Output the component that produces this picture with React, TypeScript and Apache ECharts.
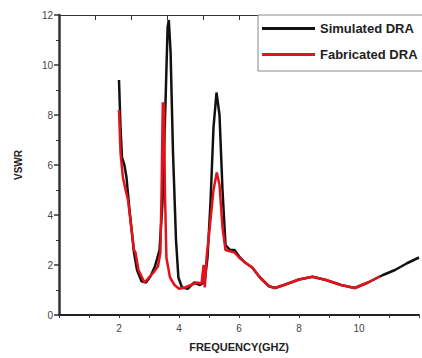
import React, { useEffect, useRef } from "react";
import * as echarts from "echarts";

const simFreq = [2.0, 2.05, 2.1, 2.18, 2.25, 2.35, 2.5, 2.6, 2.75, 2.9, 3.05, 3.2, 3.35, 3.45, 3.55, 3.62, 3.66, 3.72, 3.8, 3.9, 3.98, 4.1, 4.3, 4.5, 4.7, 4.85, 4.95, 5.05, 5.15, 5.25, 5.35, 5.45, 5.55, 5.7, 5.85, 6.0, 6.2, 6.44, 6.7, 7.0, 7.2, 7.5, 8.0, 8.45, 8.9, 9.4, 9.86, 10.3, 10.8, 11.2, 11.6, 12.0];
const simVswr = [9.4, 7.5, 6.3, 6.0, 5.5, 4.2, 2.5, 1.8, 1.35, 1.3, 1.55, 1.95, 2.6, 4.5, 8.5, 11.5, 11.8, 10.5, 6.5, 3.0, 1.5, 1.1, 1.05, 1.3, 1.2, 1.3, 2.3, 4.5, 7.5, 8.9, 8.0, 5.0, 2.8, 2.6, 2.6, 2.35, 2.1, 1.9, 1.5, 1.15, 1.08, 1.2, 1.42, 1.53, 1.4, 1.2, 1.08, 1.3, 1.6, 1.8, 2.07, 2.3];

const fabFreq = [2.0, 2.05, 2.13, 2.22, 2.3, 2.4, 2.5, 2.55, 2.65, 2.85, 3.0, 3.15, 3.3, 3.38, 3.42, 3.46, 3.5, 3.53, 3.58, 3.7, 3.85, 4.0, 4.2, 4.4, 4.6, 4.75, 4.82, 4.86, 4.92, 5.05, 5.15, 5.26, 5.35, 5.45, 5.55, 5.7, 5.85, 6.0, 6.2, 6.44, 6.7, 7.0, 7.2, 7.5, 8.0, 8.45, 8.9, 9.4, 9.86, 10.3, 10.7];
const fabVswr = [8.2, 6.5, 5.5, 5.0, 4.6, 3.6, 2.6, 2.5, 1.8, 1.3, 1.5, 1.7, 1.95, 2.5, 5.0, 8.5, 8.4, 5.0, 2.3, 1.5, 1.2, 1.05, 1.1, 1.2, 1.3, 1.25, 2.0, 1.1, 2.3, 3.8, 5.0, 5.7, 5.2, 3.5, 2.6, 2.55, 2.5, 2.3, 2.1, 1.9, 1.5, 1.15, 1.08, 1.2, 1.42, 1.53, 1.4, 1.2, 1.08, 1.3, 1.55];

const seriesNames = ["Simulated DRA", "Fabricated DRA"];
const xTickLabels = [2, 4, 6, 8, 10];
const yTickLabels = [0, 2, 4, 6, 8, 10, 12];

export default function App() {
  const ref = useRef<HTMLDivElement>(null);
  useEffect(() => {
    if (!ref.current) return;
    const chart = echarts.init(ref.current, null, { renderer: "svg" });
    const font = "'Liberation Sans', Arial, sans-serif";
    chart.setOption({
      animation: false,
      backgroundColor: "#fff",
      textStyle: { fontFamily: font },
      grid: { left: 59, top: 15, right: -12, bottom: 43 },
      legend: {
        orient: "vertical",
        left: 258,
        top: 15,
        data: seriesNames,
        icon: "rect",
        itemWidth: 53,
        itemHeight: 3,
        itemGap: 13,
        padding: [7, 60, 10, 4],
        borderColor: "#888",
        borderWidth: 1,
        backgroundColor: "#fff",
        textStyle: { fontSize: 13, fontWeight: "bold", color: "#222", fontFamily: font },
      },
      xAxis: [
        {
          type: "value",
          min: 0,
          max: 12,
          interval: 2,
          position: "bottom",
          name: "FREQUENCY(GHZ)",
          nameLocation: "middle",
          nameGap: 26,
          nameTextStyle: { fontSize: 11, fontWeight: "bold", color: "#222", fontFamily: font },
          axisLine: { onZero: false, lineStyle: { color: "#222", width: 2 } },
          axisTick: { show: true, length: 3, lineStyle: { color: "#333" } },
          minorTick: { show: true, splitNumber: 2, length: 3, lineStyle: { color: "#333" } },
          splitLine: { show: false },
          axisLabel: {
            fontSize: 10,
            color: "#444",
            margin: 8,
            formatter: (v: number) => (xTickLabels.includes(v) ? String(v) : ""),
          },
        },
        {
          type: "value",
          min: 0,
          max: 10,
          interval: 1,
          position: "top",
          axisLine: { onZero: false, lineStyle: { color: "#333", width: 1 } },
          axisTick: { show: true, inside: true, length: 5, lineStyle: { color: "#333" } },
          axisLabel: { show: false },
          splitLine: { show: false },
        },
      ],
      yAxis: {
        type: "value",
        min: 0,
        max: 12,
        interval: 2,
        name: "VSWR",
        nameLocation: "middle",
        nameGap: 36,
        nameTextStyle: { fontSize: 10, fontWeight: "bold", color: "#222", fontFamily: font },
        axisLine: { show: true, lineStyle: { color: "#333", width: 2.5 } },
        axisTick: { show: true, length: 5, lineStyle: { color: "#333", width: 1.5 } },
        minorTick: { show: true, splitNumber: 2, length: 3, lineStyle: { color: "#333" } },
        splitLine: { show: false },
        axisLabel: {
          fontSize: 10,
          color: "#444",
          margin: 6,
          formatter: (v: number) => (yTickLabels.includes(v) ? String(v) : ""),
        },
      },
      series: [
        {
          name: seriesNames[0],
          type: "line",
          data: simFreq.map((f, i) => [f, simVswr[i]]),
          showSymbol: false,
          lineStyle: { color: "#111", width: 2.5 },
          itemStyle: { color: "#111" },
          z: 2,
        },
        {
          name: seriesNames[1],
          type: "line",
          data: fabFreq.map((f, i) => [f, fabVswr[i]]),
          showSymbol: false,
          lineStyle: { color: "#e3121b", width: 2.5 },
          itemStyle: { color: "#e3121b" },
          z: 3,
        },
      ],
    });
    return () => chart.dispose();
  }, []);
  return <div ref={ref} style={{ width: 422, height: 358, position: "absolute", left: 0, top: 0 }} />;
}
